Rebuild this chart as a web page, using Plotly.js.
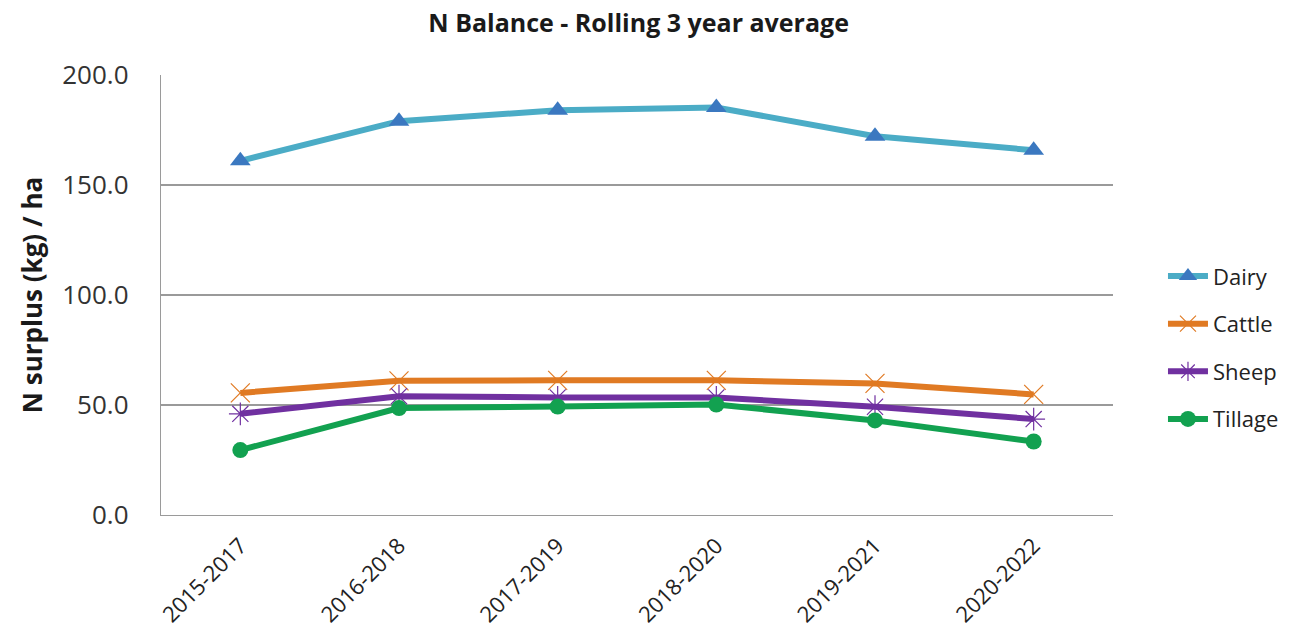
<!DOCTYPE html>
<html>
<head>
<meta charset="utf-8">
<script src="https://cdn.plot.ly/plotly-3.0.1.min.js"></script>
<style>html,body{margin:0;padding:0;background:#fff;}#chart{width:1306px;height:636px;}</style>
</head>
<body>
<div id="chart"></div>
<script>
const categories = ["2015-2017","2016-2018","2017-2019","2018-2020","2019-2021","2020-2022"];
const dairy   = [161.0, 179.0, 184.0, 185.2, 172.2, 165.8];
const cattle  = [55.5, 61.0, 61.2, 61.2, 59.8, 54.8];
const sheep   = [46.0, 54.0, 53.4, 53.4, 49.2, 43.6];
const tillage = [29.5, 48.6, 49.3, 50.2, 43.0, 33.4];
const yTicks = [0, 50, 100, 150, 200];

const font = "Open Sans, Liberation Sans, sans-serif";
function tr(name, y, lineColor, marker) {
  return {type:"scatter", mode:"lines+markers", name:name, legendgroup:name, x:categories, y:y,
    line:{color:lineColor, width:6}, marker:marker};
}
const data = [
  tr("Dairy", dairy, "#4BACC6", {symbol:"triangle-up", size:18, color:"#3B78C0"}),
  tr("Cattle", cattle, "#E07A23", {symbol:"x-thin-open", size:19, color:"#E07A23", line:{width:1.2, color:"#E07A23"}}),
  tr("Sheep", sheep, "#7030A0", {symbol:"asterisk-open", size:19, color:"#7030A0", line:{width:1.2, color:"#7030A0"}}),
  tr("Tillage", tillage, "#12A150", {symbol:"circle", size:16, color:"#12A150"})
];
const layout = {
  width:1306, height:636,
  margin:{l:161, r:193, t:75, b:121},
  paper_bgcolor:"#fff", plot_bgcolor:"#fff",
  showlegend:true,
  title:{text:"<b>N Balance - Rolling 3 year average</b>", x:0.489, xanchor:"center", y:0.963, yanchor:"middle",
    font:{family:font, size:25, color:"#1a1a1a"}},
  xaxis:{type:"category", range:[-0.5,5.5], tickangle:-45, showgrid:false,
    showline:true, linecolor:"#9a9a9a", linewidth:1.3, ticks:"", ticklabelstandoff:8,
    tickfont:{family:font, size:22, color:"#222"}},
  yaxis:{range:[0,200], tickvals:yTicks, ticktext:yTicks.map(v=>v.toFixed(1)),
    showgrid:true, gridcolor:"#9a9a9a", gridwidth:1.2, zeroline:false,
    showline:true, linecolor:"#9a9a9a", linewidth:1.3, ticks:"", ticklen:0, ticklabelstandoff:26,
    tickfont:{family:font, size:26, color:"#333"},
    title:{text:"<b>N surplus (kg) / ha</b>", standoff:12, font:{family:font, size:26, color:"#1a1a1a"}}},
  legend:{x:1.0525, xanchor:"left", y:0.38, yanchor:"middle", tracegroupgap:16,
    font:{family:font, size:22, color:"#222"}, itemwidth:40}
};
Plotly.newPlot("chart", data, layout, {displayModeBar:false, staticPlot:true});
</script>
</body>
</html>
